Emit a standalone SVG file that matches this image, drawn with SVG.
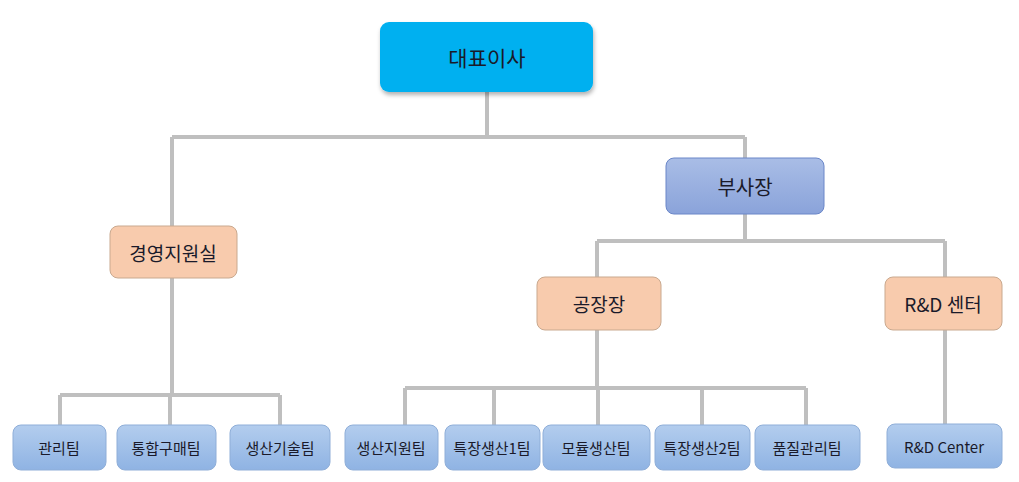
<svg xmlns="http://www.w3.org/2000/svg" width="1019" height="482" viewBox="0 0 1019 482">
<defs>
<linearGradient id="gb" x1="0" y1="0" x2="0" y2="1"><stop offset="0" stop-color="#a9bde6"/><stop offset="1" stop-color="#8aa3da"/></linearGradient>
<linearGradient id="gl" x1="0" y1="0" x2="0" y2="1"><stop offset="0" stop-color="#b3cdee"/><stop offset="1" stop-color="#8fb3e3"/></linearGradient>
<filter id="sh" x="-10%" y="-10%" width="130%" height="140%"><feDropShadow dx="1" dy="3" stdDeviation="2" flood-color="#000" flood-opacity="0.3"/></filter>
</defs>
<style>
text{font-family:"Noto Sans CJK KR","Noto Sans",sans-serif;text-anchor:middle;dominant-baseline:central;fill:#1a1a2a}
.c{stroke:#bfbfbf;stroke-width:4;fill:none}
.p{fill:#f8cbad;stroke:#c9a98f;stroke-width:1}
.l{fill:url(#gl);stroke:#8faed8;stroke-width:1}
.s{font-size:15px}
</style>
<rect width="1019" height="482" fill="#fff"/>
<g id="connectors" class="c">
<path d="M487 92V137M172 137H745M172 137V226M745 137V158"/>
<path d="M745 214V241M597 241H945M597 241V277M945 241V277"/>
<path d="M172 278V395M60 395H280M60 395V425M170 395V425M280 395V425"/>
<path d="M597 330V388M405 388H806M405 388V425M494 388V425M598 388V425M702 388V425M806 388V425"/>
<path d="M945 330V424"/>
</g>
<g id="ceo"><rect x="380" y="22" width="213" height="70" rx="9" fill="#00b0f0" filter="url(#sh)"/><text x="487" y="57" font-size="21">대표이사</text></g>
<g id="vp"><rect x="666" y="158" width="158" height="56" rx="8" fill="url(#gb)" stroke="#6a86c8"/><text x="745" y="186" font-size="20">부사장</text></g>
<g id="mgmt"><rect class="p" x="110" y="226" width="127" height="52" rx="8"/><text x="173" y="252" font-size="19">경영지원실</text></g>
<g id="plant"><rect class="p" x="537" y="277" width="124" height="53" rx="8"/><text x="599" y="303" font-size="19">공장장</text></g>
<g id="rnd"><rect class="p" x="885" y="277" width="117" height="53" rx="8"/><text x="943" y="303" font-size="19">R&amp;D 센터</text></g>
<g id="t1"><rect class="l" x="13" y="425" width="93" height="45" rx="8"/><text class="s" x="59" y="447">관리팀</text></g>
<g id="t2"><rect class="l" x="117" y="425" width="99" height="45" rx="8"/><text class="s" x="166" y="447">통합구매팀</text></g>
<g id="t3"><rect class="l" x="230" y="425" width="100" height="45" rx="8"/><text class="s" x="280" y="447">생산기술팀</text></g>
<g id="t4"><rect class="l" x="345" y="425" width="93" height="45" rx="8"/><text class="s" x="391" y="447">생산지원팀</text></g>
<g id="t5"><rect class="l" x="445" y="425" width="95" height="45" rx="8"/><text class="s" x="492" y="447">특장생산1팀</text></g>
<g id="t6"><rect class="l" x="543" y="425" width="107" height="45" rx="8"/><text class="s" x="596" y="447">모듈생산팀</text></g>
<g id="t7"><rect class="l" x="655" y="425" width="95" height="45" rx="8"/><text class="s" x="702" y="447">특장생산2팀</text></g>
<g id="t8"><rect class="l" x="755" y="425" width="105" height="45" rx="8"/><text class="s" x="807" y="447">품질관리팀</text></g>
<g id="t9"><rect class="l" x="887" y="424" width="115" height="44" rx="8"/><text class="s" x="944" y="446">R&amp;D Center</text></g>
</svg>
